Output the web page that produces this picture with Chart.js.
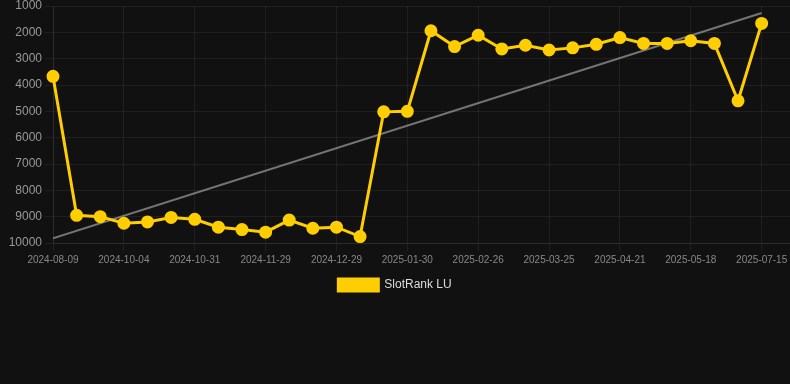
<!DOCTYPE html>
<html>
<head>
<meta charset="utf-8">
<script src="https://cdn.jsdelivr.net/npm/chart.js@4.4.0/dist/chart.umd.min.js"></script>
<style>
  html, body { margin: 0; padding: 0; background: #111111; }
  .chart-box { width: 790px; height: 301px; position: relative; }
</style>
</head>
<body>
<div class="chart-box"><canvas id="rankChart"></canvas></div>
<script>
// Dates (category labels) and rank values
const dates = [
  '2024-08-09', '2024-08-28', '2024-09-16', '2024-10-04', '2024-10-13', '2024-10-22',
  '2024-10-31', '2024-11-09', '2024-11-19', '2024-11-29', '2024-12-09', '2024-12-19',
  '2024-12-29', '2025-01-09', '2025-01-20', '2025-01-30', '2025-02-08', '2025-02-17',
  '2025-02-26', '2025-03-07', '2025-03-16', '2025-03-25', '2025-04-03', '2025-04-12',
  '2025-04-21', '2025-04-30', '2025-05-09', '2025-05-18', '2025-06-06', '2025-06-25',
  '2025-07-15'
];
const rankLU = [
  3670, 8950, 9000, 9250, 9200, 9030,
  9100, 9400, 9490, 9590, 9130, 9440,
  9400, 9755, 5020, 5000, 1940, 2540,
  2110, 2630, 2490, 2670, 2590, 2455,
  2200, 2420, 2420, 2320, 2420, 4600,
  1660
];
const yTicks = [1000, 2000, 3000, 4000, 5000, 6000, 7000, 8000, 9000, 10000];

// least squares trend over the series
function trendLine(values) {
  const n = values.length;
  let sx = 0, sy = 0, sxy = 0, sxx = 0;
  values.forEach((v, i) => { sx += i; sy += v; sxy += i * v; sxx += i * i; });
  const slope = (n * sxy - sx * sy) / (n * sxx - sx * sx);
  const icept = (sy - slope * sx) / n;
  return [{ x: 0, y: icept }, { x: n - 1, y: icept + slope * (n - 1) }];
}

const gridColor = 'rgba(255, 255, 255, 0.06)';
const yellow = 'rgb(255, 206, 0)';

new Chart(document.getElementById('rankChart'), {
  type: 'line',
  data: {
    datasets: [
      {
        label: 'SlotRank LU',
        data: rankLU.map((v, i) => ({ x: i, y: v })),
        borderColor: yellow,
        backgroundColor: yellow,
        borderWidth: 3,
        pointRadius: 5,
        pointHoverRadius: 5,
        tension: 0,
        clip: false
      },
      {
        label: 'trend',
        data: trendLine(rankLU),
        borderColor: 'rgba(150, 150, 150, 0.75)',
        borderWidth: 2,
        pointRadius: 0,
        fill: false
      }
    ]
  },
  options: {
    responsive: true,
    maintainAspectRatio: false,
    animation: false,
    layout: { padding: 0, autoPadding: false },
    scales: {
      x: {
        type: 'linear',
        min: 0,
        max: 31.2,
        grid: { color: gridColor },
        border: { color: gridColor },
        afterFit: (axis) => { axis.paddingRight = 0; },
        ticks: {
          stepSize: 3,
          autoSkip: false,
          includeBounds: false,
          maxRotation: 0,
          color: '#888888',
          font: { family: 'Liberation Sans', size: 10 },
          callback: (v) => dates[v] || ''
        }
      },
      y: {
        reverse: true,
        min: yTicks[0],
        max: yTicks[yTicks.length - 1],
        grid: { color: gridColor },
        border: { color: gridColor },
        afterBuildTicks: (axis) => { axis.ticks = yTicks.map(v => ({ value: v })); },
        afterFit: (axis) => { axis.width = 53; axis.paddingTop = 6; },
        ticks: {
          color: '#999999',
          font: { family: 'Liberation Sans', size: 12 },
          callback: (v) => String(v)
        }
      }
    },
    plugins: {
      legend: {
        position: 'bottom',
        labels: {
          color: '#dddddd',
          boxWidth: 40,
          boxHeight: 12,
          font: { family: 'Liberation Sans', size: 12 },
          filter: (item) => item.text !== 'trend'
        }
      },
      tooltip: { enabled: false }
    }
  }
});
</script>
</body>
</html>
